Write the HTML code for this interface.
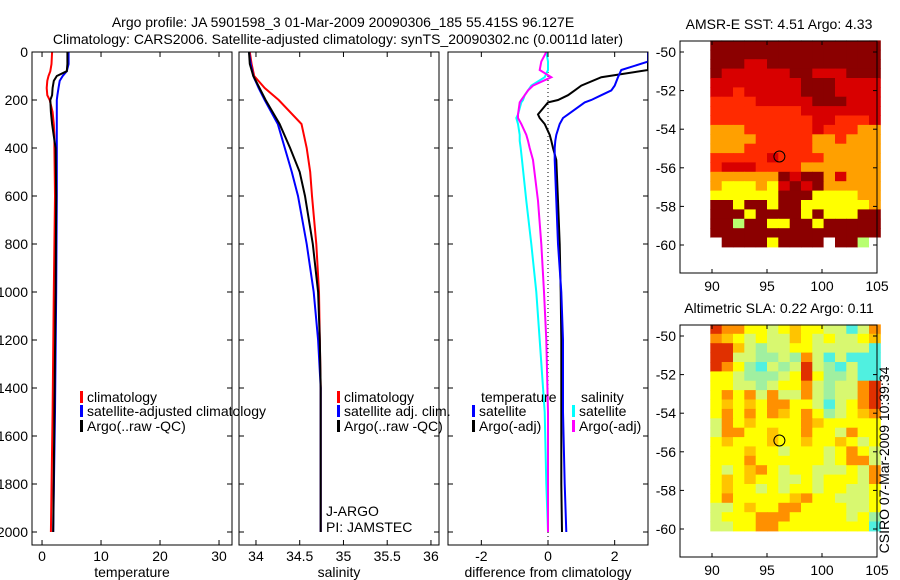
<!DOCTYPE html>
<html><head><meta charset="utf-8"><style>
body{margin:0;background:#fff;}
svg{display:block;font-family:"Liberation Sans",sans-serif;font-size:14px;}
</style></head><body>
<svg id="c" width="900" height="580" xmlns="http://www.w3.org/2000/svg">
<text x="343" y="27" text-anchor="middle">Argo profile: JA 5901598_3 01-Mar-2009 20090306_185 55.415S 96.127E</text>
<text x="338" y="44" text-anchor="middle">Climatology: CARS2006. Satellite-adjusted climatology: synTS_20090302.nc (0.0011d later)</text>
</svg>
<script>
// ---- profile data ----
const tDepth=[0,50,80,100,120,150,180,200,250,300,350,400,600,1000,1500,2000];
const tClim=[1.7,1.6,1.4,1.1,0.9,0.8,0.9,1.3,1.8,2.0,2.1,2.1,2.2,2.0,1.8,1.5];
const tSat=[4.5,4.5,4.2,3.5,3.0,2.8,2.6,2.5,2.5,2.5,2.5,2.5,2.5,2.4,2.2,1.9];
const tArgo=[4.3,4.3,4.2,2.5,2.0,1.8,1.7,1.4,1.5,1.7,2.0,2.3,2.4,2.3,2.1,1.9];
const sDepth=[0,50,100,150,200,300,400,500,600,800,1000,1200,1400,1600,2000];
const sClim=[33.93,33.95,33.98,34.1,34.26,34.52,34.58,34.62,34.64,34.69,34.72,34.73,34.74,34.74,34.74];
const sSat=[33.92,33.94,33.97,34.03,34.1,34.25,34.33,34.41,34.48,34.58,34.66,34.71,34.74,34.74,34.74];
const sArgo=[33.92,33.93,33.97,34.04,34.11,34.27,34.39,34.5,34.56,34.65,34.71,34.73,34.74,34.74,34.74];
const dDepth=[0,40,75,105,140,160,180,200,210,260,275,300,345,370,400,450,620,800,1000,1200,1500,1800,2000];
const dTSat=[3.0,3.0,2.2,2.1,2.0,1.9,1.6,1.3,1.1,0.6,0.45,0.35,0.25,0.22,0.2,0.2,0.25,0.3,0.4,0.45,0.45,0.5,0.55];
const dTArgo=[3.0,3.0,3.0,1.6,1.0,0.8,0.6,0.3,0.0,-0.3,-0.25,-0.1,0.05,0.1,0.15,0.25,0.3,0.35,0.38,0.4,0.4,0.4,0.42];
const dSSat=[-0.05,0.0,0.0,-0.1,-0.5,-0.6,-0.7,-0.75,-0.8,-0.9,-0.95,-0.9,-0.85,-0.85,-0.82,-0.78,-0.65,-0.5,-0.35,-0.25,-0.1,-0.05,0.0];
const dSArgo=[-0.05,-0.2,-0.25,0.1,-0.45,-0.6,-0.7,-0.8,-0.85,-0.9,-0.9,-0.8,-0.65,-0.6,-0.55,-0.45,-0.3,-0.2,-0.12,-0.05,0.0,0.0,0.0];
const depthTicks=[0,200,400,600,800,1000,1200,1400,1600,1800,2000];
const tTicks=[0,10,20,30];
const sTicks=[34,34.5,35,35.5,36];
const dTicks=[-2,0,2];
// ---- map data (rows north->south, cols 90..105) ----
const sstRows=["DDDDDDDDDDDDDDD","DDDDDDDDDDDDDDD","DDDRRDDDDDDDDDD","DRRRRRRDDRRRDDD","RRRRRRRRDDDRRRR","RRrRRRRRDDDRRRR","rrrrRRRRRDDDRRR","rrrrrrrrRRRRRRR","rrrrrrrrrRRrrrR","ooorrrrrrRrrroo","oooorrrrroorooo","ooorrrrrroooooo","rrrrrRrrrrooooo","rRRRrrrrooooooo","ooooooDRDDoRooo","oYYYoYRDRDooooo","YYYYYYDDDYYYYoo","DDYDDYDDYYYYYYo","DDDYDDDDYDYYYDD","DDGDDYYDDYDDDDD","DDDDDDDDDDDDDDD","WDDDDYDDDDWDDGW"];
const sstColors={D:"#8b0000",R:"#d80000",r:"#ff2a00",O:"#ff7000",o:"#ffa000",Y:"#ffff00",G:"#b8ff70",W:"#ffffff"};
const slaRows=["ROOYYgYoYYggCgO","OoYgYggoYgYggYo","RRogcggYYgggggC","RRggccgcOgCgCCC","ROYcCgcgRgcCgCC","YYgcccgYRYccgCC","YYggcgYYOgcggOR","YOYOgOggOgcggOR","YoYoYOOYYgCgYOR","YOYOYOoYOYcgYoO","gOYoYYYYOoYYYYY","gOOYYoYYOYYgOYY","YoYYYoYYoYYoYgY","YYYoYYgYYYgYOYg","YYYOYYYYYYgYOOg","YgYoOYgYYgggYgO","YoYoYYggYgYYYgO","YoYYgYgYYgYYggY","YOYYYYYoOYYgggY","ggYoYYOOYYYYggY","gYYYOOOYYYYYgYc","ggYYOOYYYYYYYYC"];
const slaColors={Y:"#ffff00",g:"#d8f870",c:"#a0f0a0",C:"#50f0e0",o:"#ffc400",O:"#ff9000",R:"#e03000"};
const latTicks=[-50,-52,-54,-56,-58,-60];
const lonTicks=[90,95,100,105];
const argoLon=96.127, argoLat=-55.415;

(function(){
const svg=document.getElementById('c');
const NS="http://www.w3.org/2000/svg";
function mk(tag,at,parent){const e=document.createElementNS(NS,tag);for(const k in at)e.setAttribute(k,at[k]);(parent||svg).appendChild(e);return e;}
function txt(x,y,s,anchor,parent){const t=mk('text',{x:x,y:y,'text-anchor':anchor||'start'},parent);t.textContent=s;return t;}
const defs=mk('defs',{});
const pTop=52,pBot=545;
const yD=d=>pTop+d*0.24;
function panel(name,x0,x1,vmin,vmax,ticks,label,showDepth){
  const g=mk('g',{});
  
  
  const cp=mk('clipPath',{id:'clip-'+name},defs);
  mk('rect',{x:x0,y:pTop,width:x1-x0,height:pBot-pTop},cp);
  const lg=mk('g',{'clip-path':'url(#clip-'+name+')'},g);
  
  
  const xs=v=>x0+(v-vmin)/(vmax-vmin)*(x1-x0);
  const r=mk('rect',{x:x0,y:pTop,width:x1-x0,height:pBot-pTop,fill:'none',stroke:'#000','stroke-width':1},g);
  
  
  ticks.forEach(v=>{const X=xs(v);
    mk('line',{x1:X,y1:pTop,x2:X,y2:pTop+5,stroke:'#000'},g);
    mk('line',{x1:X,y1:pBot,x2:X,y2:pBot-5,stroke:'#000'},g);
    const t=txt(X,pBot+16,String(v),'middle',g);
    
    });
  depthTicks.forEach(d=>{const Y=yD(d);
    mk('line',{x1:x0,y1:Y,x2:x0+5,y2:Y,stroke:'#000'},g);
    mk('line',{x1:x1,y1:Y,x2:x1-5,y2:Y,stroke:'#000'},g);
    if(showDepth){const t=txt(x0-4,Y+5,String(d),'end',g);
      
      }});
  const l=txt((x0+x1)/2,pBot+32,label,'middle',g);
  
  
  return {g,lg,xs};
}
function series(p,depths,vals,color,name,w){
  const pts=depths.map((d,i)=>p.xs(vals[i]).toFixed(1)+','+yD(d).toFixed(1)).join(' ');
  const e=mk('polyline',{points:pts,fill:'none',stroke:color,'stroke-width':w||2},p.lg);
  
  
}
function legend(g,x,y,color,label,name){
  if(color)mk('rect',{x:x,y:y-11,width:3,height:12,fill:color},g);
  const t=txt(x+(color?7:0),y,label,'start',g);
  
  
}
const p1=panel('temperature',32,232,-1.7,32.2,tTicks,'temperature',true);
series(p1,tDepth,tClim,'#ff0000','temperature-climatology-line');
series(p1,tDepth,tSat,'#0000ff','temperature-satellite-line');
series(p1,tDepth,tArgo,'#000000','temperature-argo-line');
legend(p1.g,80,402,'#ff0000','climatology','legend-climatology');
legend(p1.g,80,416,'#0000ff','satellite-adjusted climatology','legend-satellite-adjusted');
legend(p1.g,80,431,'#000000','Argo(..raw -QC)','legend-argo');
const p2=panel('salinity',239,439,33.806,36.092,sTicks,'salinity',false);
series(p2,sDepth,sClim,'#ff0000','salinity-climatology-line');
series(p2,sDepth,sSat,'#0000ff','salinity-satellite-line');
series(p2,sDepth,sArgo,'#000000','salinity-argo-line');
legend(p2.g,337,402,'#ff0000','climatology','legend-sal-climatology');
legend(p2.g,337,416,'#0000ff','satellite adj. clim.','legend-sal-satellite');
legend(p2.g,337,431,'#000000','Argo(..raw -QC)','legend-sal-argo');
legend(p2.g,326,516,null,'J-ARGO','j-argo-label');
legend(p2.g,326,532,null,'PI: JAMSTEC','pi-label');
const p3=panel('difference',448,648,-3.0,3.0,dTicks,'difference from climatology',false);
const zl=mk('line',{x1:p3.xs(0),y1:pTop,x2:p3.xs(0),y2:pBot,stroke:'#000','stroke-dasharray':'1,3'},p3.lg);


series(p3,dDepth,dSSat,'#00ffff','salinity-satellite-diff-line');
series(p3,dDepth,dSArgo,'#ff00ff','salinity-argo-diff-line');
series(p3,dDepth,dTArgo,'#000000','temperature-argo-diff-line');
series(p3,dDepth,dTSat,'#0000ff','temperature-satellite-diff-line');
legend(p3.g,481,402,null,'temperature','legend-diff-temperature-header');
legend(p3.g,472,416,'#0000ff','satellite','legend-diff-temp-satellite');
legend(p3.g,472,431,'#000000','Argo(-adj)','legend-diff-temp-argo');
legend(p3.g,581,402,null,'salinity','legend-diff-salinity-header');
legend(p3.g,572,416,'#00ffff','satellite','legend-diff-sal-satellite');
legend(p3.g,572,431,'#ff00ff','Argo(-adj)','legend-diff-sal-argo');
function map(name,bx,by,rows,colors,title,lat50y){
  const g=mk('g',{});
  
  
  const xs=lon=>712+(lon-90)*11;
  const ys=lat=>lat50y+(-50-lat)*19.3;
  const nR=rows.length,nC=rows[0].length;
  const latTop=-49.4,latBot=-60.1;
  const dlat=(latTop-latBot)/nR;
  rows.forEach((row,i)=>{for(let j=0;j<nC;j++){
    const lon0=89.85+j*(105.3-89.85)/nC, lon1=89.85+(j+1)*(105.3-89.85)/nC;
    const la0=latTop-i*dlat, la1=latTop-(i+1)*dlat;
    const c=mk('rect',{x:xs(lon0).toFixed(1),y:ys(la0).toFixed(1),width:(xs(lon1)-xs(lon0)+0.5).toFixed(1),height:(ys(la1)-ys(la0)+0.5).toFixed(1),fill:colors[row[j]]},g);
    
    }});
  const f=mk('rect',{x:bx,y:by,width:197,height:232,fill:'none',stroke:'#000'},g);
  
  
  const t=txt(779,by-12,title,'middle',g);
  
  
  latTicks.forEach(l=>{const Y=ys(l);
    mk('line',{x1:bx,y1:Y,x2:bx+4,y2:Y,stroke:'#000'},g);
    mk('line',{x1:bx+197,y1:Y,x2:bx+193,y2:Y,stroke:'#000'},g);
    const tl=txt(bx-4,Y+5,String(l),'end',g);
    
    });
  lonTicks.forEach(l=>{const X=xs(l);
    mk('line',{x1:X,y1:by,x2:X,y2:by+4,stroke:'#000'},g);
    mk('line',{x1:X,y1:by+232,x2:X,y2:by+228,stroke:'#000'},g);
    const tl=txt(X,by+250,String(l),'middle',g);
    
    });
  const c=mk('circle',{cx:xs(argoLon),cy:ys(argoLat),r:5.5,fill:'none',stroke:'#000'},g);
  
  
}
map('sst-map',680,41,sstRows,sstColors,'AMSR-E SST: 4.51  Argo: 4.33',52);
map('sla-map',680,325,slaRows,slaColors,'Altimetric SLA: 0.22  Argo: 0.11',336);
const cs=mk('text',{x:0,y:0,transform:'translate(889,460) rotate(-90)','text-anchor':'middle'});
cs.textContent='CSIRO 07-Mar-2009 10:39:34';


})();
</script>
</body></html>
